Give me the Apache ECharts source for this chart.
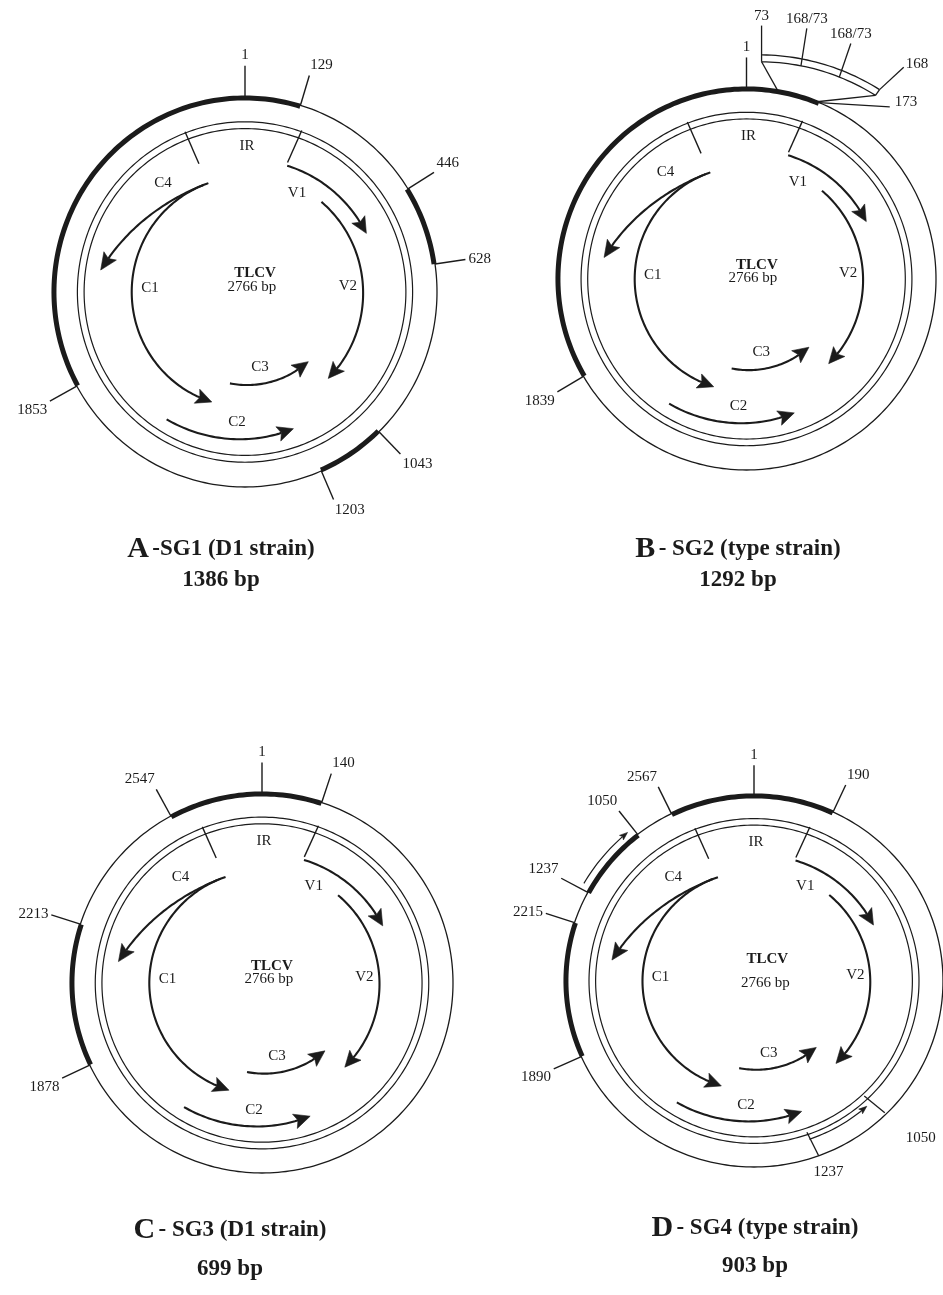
<!DOCTYPE html>
<html>
<head>
<meta charset="utf-8">
<title>TLCV subgenomic DNA maps</title>
<script src="https://cdn.jsdelivr.net/npm/echarts@6/dist/echarts.min.js"></script>
<style>
  html, body { margin: 0; padding: 0; background: #ffffff; }
  #chart { width: 943px; height: 1295px; }
</style>
</head>
<body>
<div id="chart"></div>
<script>
// ---------------- data ----------------
const GENOME_BP = 2766;
const genomeName = 'TLCV';
const genomeSizeText = '2766 bp';

const panelLetters = ['A', 'B', 'C', 'D'];
const panelNames = ['-SG1 (D1 strain)', '- SG2 (type strain)', '- SG3 (D1 strain)', '- SG4 (type strain)'];
const panelSizes = ['1386 bp', '1292 bp', '699 bp', '903 bp'];

// genome segments kept in each subgenomic DNA, clockwise [from, to] in nt
const sg1Segments = [[1853, 129], [446, 628], [1043, 1203]];
const sg2Segments = [[1839, 173]];
const sg3Segments = [[2547, 140], [1878, 2213]];
const sg4Segments = [[2567, 190], [1890, 2215]];

// labelled breakpoints on the outer circle
const sg1Breakpoints = [1, 129, 446, 628, 1043, 1203, 1853];
const sg2Breakpoints = [1, 1839];
const sg3Breakpoints = [1, 140, 2547, 2213, 1878];
const sg4Breakpoints = [1, 190, 2567, 2215, 1890];

// SG2: tandem copies of nt 73-168 at the 173 junction
const sg2RepeatFrom = 73;
const sg2RepeatTo = 168;
const sg2JunctionEnd = 173;
const sg2RepeatLabels = ['73', '168/73', '168/73', '168'];

// SG4: inverted copy of nt 1050-1237 placed between 2215 and 2567
const sg4InvertedFrom = 1050;
const sg4InvertedTo = 1237;
const sg4InsertSite = [2293, 2474];

// TLCV genome annotation (nt, in the sense of transcription)
const geneNames = ['V1', 'V2', 'C1', 'C2', 'C3', 'C4'];
const geneStart = [144, 313, 2621, 1629, 1456, 2600];
const geneEnd = [496, 1042, 1514, 1231, 1055, 2140];
const irBounds = [2606, 151];

// ---------------- layout & style ----------------
const FONT = '"Liberation Serif", "Times New Roman", serif';
const INK = '#1b1b1b';
const FRAMES = [
  { cx: 245, cy: 292, rx: 192, ry: 195 },
  { cx: 746.5, cy: 279, rx: 189.5, ry: 191 },
  { cx: 262, cy: 983, rx: 191, ry: 190 },
  { cx: 755, cy: 981, rx: 190, ry: 186 }
];
const RINGS = [1, 0.873, 0.838];
const TRACKS = {
  V1: { r: [0.684, 0.70] },
  V2: { r: [0.61, 0.62] },
  C1: { r: [0.59, 0.59] },
  C2: { r: [0.77, 0.745] },
  C3: { r: [0.475, 0.486] },
  C4: { r: [0.59, 0.76], ease: 2 }
};
const GENE_LABELS = {
  V1: [0.271, 0.508], V2: [0.536, 0.031], C1: [-0.495, 0.021],
  C2: [-0.042, -0.667], C3: [0.078, -0.385], C4: [-0.427, 0.559]
};
const IR_LABEL = [0.01, 0.749];
const IR_R = [0.879, 0.70];
const CENTER_TEXT = [
  [[0.052, 0.097], [0.036, 0.026]],
  [[0.055, 0.073], [0.034, 0.005]],
  [[0.052, 0.09], [0.036, 0.02]],
  [[0.07, 0.12], [0.06, -0.01]]
];
const TITLES = [[221, 549, 580], [738, 549, 580], [230, 1230, 1269], [755, 1228, 1266]];
const TICK_LEN = 0.16;
const INSET = { a0: 4, a1: 35.3, rIn: [1.14, 1.178], rOut: [1.176, 1.215] };
const GENE_HEAD = { head: 16, half: 7.5, lw: 2.1 };

// ---------------- geometry helpers ----------------
function deg(bp) { return bp / GENOME_BP * 360; }
function polar(api, a, r) {
  const t = a * Math.PI / 180;
  return api.coord([r * Math.sin(t), r * Math.cos(t)]);
}
function arcPoints(api, a0, a1, r0, r1, ease) {
  const n = Math.max(6, Math.ceil(Math.abs(a1 - a0) / 1.2));
  const pts = [];
  for (let i = 0; i <= n; i++) {
    const t = i / n;
    const k = ease ? Math.pow(t, ease) : t;
    pts.push(polar(api, a0 + (a1 - a0) * t, r0 + (r1 - r0) * k));
  }
  return pts;
}
function line(p, q, lw) {
  return { type: 'line', shape: { x1: p[0], y1: p[1], x2: q[0], y2: q[1] }, style: { stroke: INK, lineWidth: lw || 1.3 } };
}
function poly(points, lw) {
  return { type: 'polyline', shape: { points }, style: { stroke: INK, lineWidth: lw, fill: 'none' } };
}
function label(x, y, text, o) {
  o = o || {};
  return {
    type: 'text', x, y,
    style: {
      text, fontFamily: FONT, fontSize: o.size || 15, fontWeight: o.weight || 'normal',
      fill: INK, align: o.align || 'center', verticalAlign: o.v || 'middle'
    }
  };
}
// arc with a filled arrowhead at its end
function arrowArc(api, a0, a1, r0, r1, o) {
  const sz = api.size([1, 1]);
  const rpx = (sz[0] + sz[1]) / 2;
  const dir = Math.sign(a1 - a0);
  const dA = o.head / (r1 * rpx) * 180 / Math.PI;
  const aBase = a1 - dir * dA;
  const frac = (aBase - a0) / (a1 - a0);
  const kb = o.ease ? Math.pow(frac, o.ease) : frac;
  const rBase = r0 + (r1 - r0) * kb;
  const tip = polar(api, a1, r1);
  const base = polar(api, aBase, rBase);
  let ux = tip[0] - base[0], uy = tip[1] - base[1];
  const L = Math.hypot(ux, uy) || 1;
  ux /= L; uy /= L;
  const px = -uy, py = ux;
  const notch = [base[0] + ux * o.head * 0.2, base[1] + uy * o.head * 0.2];
  const pts = arcPoints(api, a0, aBase, r0, rBase, o.ease);
  pts.push(notch);
  return [
    poly(pts, o.lw),
    {
      type: 'polygon',
      shape: { points: [tip, [base[0] + px * o.half, base[1] + py * o.half], notch, [base[0] - px * o.half, base[1] - py * o.half]] },
      style: { fill: INK, stroke: INK, lineWidth: 0.6 }
    }
  ];
}
function tickLabelPlacement(a) {
  const t = a * Math.PI / 180, s = Math.sin(t), c = Math.cos(t);
  return {
    s, c,
    align: s > 0.2 ? 'left' : (s < -0.2 ? 'right' : 'center'),
    v: c > 0.4 ? 'bottom' : (c < -0.4 ? 'top' : 'middle')
  };
}

// ---------------- renderers ----------------
function renderGenome(panel) {
  return function (params, api) {
    const from = deg(api.value(0)), to = deg(api.value(1));
    const children = RINGS.map((r, i) => poly(arcPoints(api, from, to, r, r), i === 0 ? 1.3 : 1.2));
    const ct = CENTER_TEXT[panel];
    const p1 = api.coord(ct[0]), p2 = api.coord(ct[1]);
    children.push(label(p1[0], p1[1], genomeName, { weight: 'bold', size: 15 }));
    children.push(label(p2[0], p2[1], genomeSizeText, { size: 15 }));
    return { type: 'group', children };
  };
}
function renderSegment(params, api) {
  const a = api.value(0);
  let b = api.value(1);
  if (b < a) b += GENOME_BP;
  return poly(arcPoints(api, deg(a), deg(b), 0.995, 0.995), 5);
}
function renderTicks(texts) {
  return function (params, api) {
    const a = deg(api.value(0) === 1 ? 0 : api.value(0));
    const pl = tickLabelPlacement(a);
    const p0 = polar(api, a, 1), p1 = polar(api, a, 1 + TICK_LEN);
    return {
      type: 'group',
      children: [
        line(p0, p1, 1.4),
        label(p1[0] + pl.s * 3, p1[1] - pl.c * 3, texts[params.dataIndex], { align: pl.align, v: pl.v, size: 15 })
      ]
    };
  };
}
function renderGene(params, api) {
  const name = geneNames[params.dataIndex];
  const tr = TRACKS[name];
  const a0 = deg(api.value(0)), a1 = deg(api.value(1));
  const children = arrowArc(api, a0, a1, tr.r[0], tr.r[1], Object.assign({ ease: tr.ease }, GENE_HEAD));
  const lp = api.coord(GENE_LABELS[name]);
  children.push(label(lp[0], lp[1], name, { size: 15 }));
  return { type: 'group', children };
}
function renderIR(params, api) {
  const a = deg(api.value(0)), b = deg(api.value(1));
  const lp = api.coord(IR_LABEL);
  return {
    type: 'group',
    children: [
      line(polar(api, a, IR_R[0]), polar(api, a + 0.8, IR_R[1]), 1.4),
      line(polar(api, b, IR_R[0]), polar(api, b - 1.2, IR_R[1]), 1.4),
      label(lp[0], lp[1], 'IR', { size: 15 })
    ]
  };
}
// SG2: expanded view of the 73-168 tandem repeat
function renderRepeat(params, api) {
  const from = api.value(0), to = api.value(1), junction = api.value(2);
  const copies = sg2RepeatLabels.length - 1;
  const at = t => INSET.a0 + (INSET.a1 - INSET.a0) * t;
  const rIn = t => INSET.rIn[0] + (INSET.rIn[1] - INSET.rIn[0]) * t;
  const children = [];
  children.push(poly(arcPoints(api, INSET.a0, INSET.a1, INSET.rIn[0], INSET.rIn[1]), 1.3));
  children.push(poly(arcPoints(api, INSET.a0, INSET.a1, INSET.rOut[0], INSET.rOut[1]), 1.3));
  for (let k = 1; k < copies; k++) {
    const t = k / copies;
    const pIn = polar(api, at(t), rIn(t));
    const pTop = polar(api, at(t) - 0.8, 1.35);
    children.push(line(pIn, pTop, 1.3));
    children.push(label(pTop[0], pTop[1] - 2, sg2RepeatLabels[k], { v: 'bottom', size: 15 }));
  }
  // left end: first copy starts at nt 73
  const pL = polar(api, INSET.a0, INSET.rIn[0]);
  const topY = polar(api, INSET.a0, 1.33)[1];
  children.push(line(pL, [pL[0], topY], 1.3));
  children.push(label(pL[0], topY - 2, sg2RepeatLabels[0], { v: 'bottom', size: 15 }));
  children.push(line(pL, polar(api, deg(from), 1), 1.3));
  // right end: last copy ends at nt 168
  const pRi = polar(api, INSET.a1, INSET.rIn[1]);
  const pRo = polar(api, INSET.a1, INSET.rOut[1]);
  children.push(line(pRo, pRi, 1.3));
  children.push(line(pRi, polar(api, deg(to), 1), 1.3));
  const p168 = polar(api, INSET.a1 + 1.5, 1.385);
  children.push(line(pRo, p168, 1.3));
  children.push(label(p168[0] + 2, p168[1] - 3, sg2RepeatLabels[copies], { align: 'left', size: 15 }));
  // junction at nt 173
  const pj = polar(api, deg(junction), 1);
  const pjEnd = polar(api, 40, 1.176);
  children.push(line(pj, pjEnd, 1.3));
  children.push(label(pjEnd[0] + 5, pjEnd[1] - 5, String(junction), { align: 'left', size: 15 }));
  return { type: 'group', children };
}
// SG4: orientation arrows for the inverted 1050-1237 copy and its source region
function renderInversion(params, api) {
  const site0 = api.value(0), site1 = api.value(1), src0 = api.value(2), src1 = api.value(3);
  const children = [];
  // arrow along the inserted copy (1237 -> 1050)
  children.push(...arrowArc(api, deg(site0 + 14), deg(site1 - 15), 1.042, 1.042, { head: 8, half: 3, lw: 1.2 }));
  // source region on the genome (1237 -> 1050)
  children.push(...arrowArc(api, deg(src1), deg(src0) + 1.8, 0.9, 0.9, { head: 8, half: 3, lw: 1.2 }));
  // [position, tick inner r, tick outer r, label angle shift, label r]
  [[src0, 0.85, 0.99, -3, 1.22], [src1, 0.86, 1.0, -2, 1.1]].forEach(function (d) {
    const a = deg(d[0]);
    children.push(line(polar(api, a, d[1]), polar(api, a - 1, d[2]), 1.3));
    const lp = polar(api, a + d[3], d[4]);
    children.push(label(lp[0], lp[1], String(d[0]), { size: 15 }));
  });
  return { type: 'group', children };
}

// ---------------- option ----------------
const segmentSets = [sg1Segments, sg2Segments, sg3Segments, sg4Segments.concat([sg4InsertSite])];
const tickPositions = [
  sg1Breakpoints, sg2Breakpoints, sg3Breakpoints,
  sg4Breakpoints.concat(sg4InsertSite)
];
const tickTexts = [
  sg1Breakpoints.map(String), sg2Breakpoints.map(String), sg3Breakpoints.map(String),
  sg4Breakpoints.map(String).concat([String(sg4InvertedTo), String(sg4InvertedFrom)])
];

const grids = [], xAxes = [], yAxes = [], series = [];
FRAMES.forEach(function (f, i) {
  grids.push({ left: f.cx - f.rx, top: f.cy - f.ry, width: 2 * f.rx, height: 2 * f.ry, containLabel: false });
  xAxes.push({ gridIndex: i, type: 'value', min: -1, max: 1, show: false });
  yAxes.push({ gridIndex: i, type: 'value', min: -1, max: 1, show: false });
  const ax = { xAxisIndex: i, yAxisIndex: i, clip: false, silent: true, animation: false };
  series.push(Object.assign({ type: 'custom', z: 2, data: [[0, GENOME_BP]], renderItem: renderGenome(i) }, ax));
  series.push(Object.assign({ type: 'custom', z: 3, data: segmentSets[i].map(s => [s[0], s[1]]), renderItem: renderSegment }, ax));
  series.push(Object.assign({ type: 'custom', z: 4, data: tickPositions[i].map(p => [p, 0]), renderItem: renderTicks(tickTexts[i]) }, ax));
  series.push(Object.assign({ type: 'custom', z: 4, data: geneNames.map((n, k) => [geneStart[k], geneEnd[k]]), renderItem: renderGene }, ax));
  series.push(Object.assign({ type: 'custom', z: 4, data: [irBounds.slice()], renderItem: renderIR }, ax));
  if (i === 1) {
    series.push(Object.assign({ type: 'custom', z: 4, data: [[sg2RepeatFrom, sg2RepeatTo, sg2JunctionEnd]], renderItem: renderRepeat }, ax));
  }
  if (i === 3) {
    series.push(Object.assign({ type: 'custom', z: 4, data: [[sg4InsertSite[0], sg4InsertSite[1], sg4InvertedFrom, sg4InvertedTo]], renderItem: renderInversion }, ax));
  }
});

const graphics = [];
panelLetters.forEach(function (L, i) {
  const t = TITLES[i];
  graphics.push({
    type: 'text', x: t[0], y: t[1],
    style: {
      text: '{l|' + L + '} {n|' + panelNames[i] + '}',
      align: 'center', verticalAlign: 'middle', fill: INK,
      rich: {
        l: { fontFamily: FONT, fontSize: 30, fontWeight: 'bold', fill: INK },
        n: { fontFamily: FONT, fontSize: 23, fontWeight: 'bold', fill: INK }
      }
    }
  });
  graphics.push({
    type: 'text', x: t[0], y: t[2],
    style: { text: panelSizes[i], align: 'center', verticalAlign: 'middle', fill: INK, fontFamily: FONT, fontSize: 23, fontWeight: 'bold' }
  });
});

const chart = echarts.init(document.getElementById('chart'), null, { renderer: 'canvas' });
chart.setOption({
  backgroundColor: '#ffffff',
  animation: false,
  grid: grids,
  xAxis: xAxes,
  yAxis: yAxes,
  series,
  graphic: graphics
});
</script>
</body>
</html>
